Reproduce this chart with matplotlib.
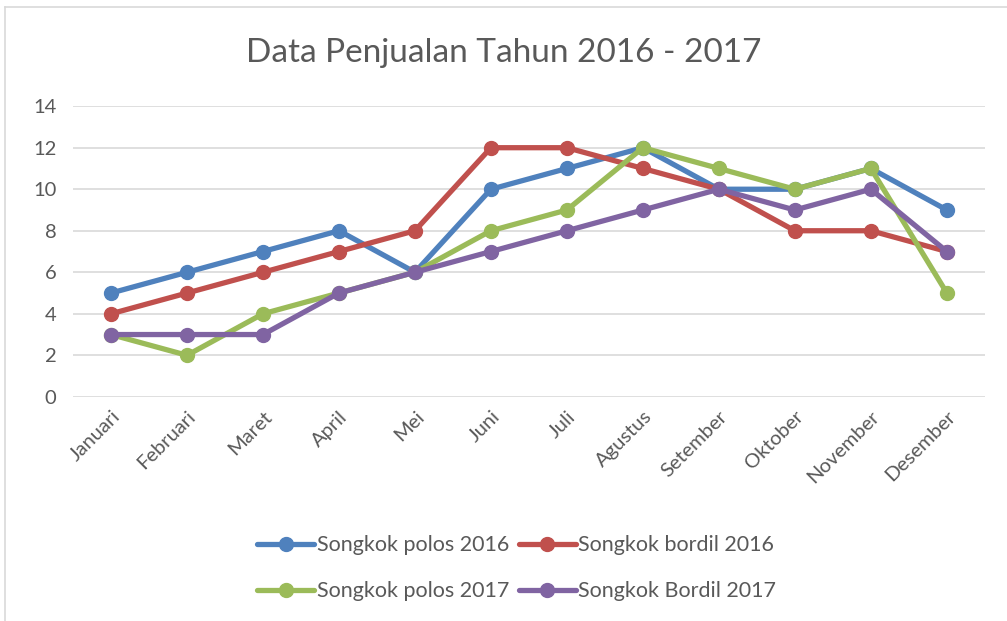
import matplotlib.pyplot as plt
from matplotlib.lines import Line2D

plt.rcParams['font.family'] = ['Lato', 'DejaVu Sans']

# data
bulan = ['Januari', 'Februari', 'Maret', 'April', 'Mei', 'Juni', 'Juli',
         'Agustus', 'Setember', 'Oktober', 'November', 'Desember']
polos_2016 = [5, 6, 7, 8, 6, 10, 11, 12, 10, 10, 11, 9]
bordil_2016 = [4, 5, 6, 7, 8, 12, 12, 11, 10, 8, 8, 7]
polos_2017 = [3, 2, 4, 5, 6, 8, 9, 12, 11, 10, 11, 5]
bordil_2017 = [3, 3, 3, 5, 6, 7, 8, 9, 10, 9, 10, 7]

series = [
    ('Songkok polos 2016', polos_2016, '#4F81BD'),
    ('Songkok bordil 2016', bordil_2016, '#C0504D'),
    ('Songkok polos 2017', polos_2017, '#9BBB59'),
    ('Songkok Bordil 2017', bordil_2017, '#8064A2'),
]

txt = '#595959'

fig = plt.figure(figsize=(10.07, 6.21), dpi=100)
ax = fig.add_axes([0.0725, 0.361, 0.9055, 0.468])

x = list(range(len(bulan)))
handles = []
for name, vals, col in series:
    ln, = ax.plot(x, vals, color=col, lw=3.8, marker='o', ms=10,
                  solid_capstyle='round', label=name, zorder=3)
    handles.append(ln)

ax.set_xlim(-0.5, len(bulan) - 0.5)
ax.set_ylim(0, 14)
ax.set_yticks(range(0, 15, 2))
ax.set_xticks(x)
ax.set_xticklabels(bulan, rotation=45, ha='right', rotation_mode='anchor')
ax.tick_params(axis='both', length=0, colors=txt, labelsize=14.5)
ax.tick_params(axis='x', pad=8)
ax.tick_params(axis='y', pad=12)
ax.grid(axis='y', color='#D9D9D9', lw=1.2)
ax.set_axisbelow(True)
for s in ax.spines.values():
    s.set_visible(False)

fig.text(0.5, 0.914, 'Data Penjualan Tahun 2016 - 2017', ha='center', va='center',
         fontsize=24, color=txt)

order = [handles[0], handles[2], handles[1], handles[3]]
leg = fig.legend(order, [h.get_label() for h in order], ncol=2,
                 loc='center', bbox_to_anchor=(0.513, 0.085), frameon=False,
                 fontsize=15.5, handlelength=2.65, handletextpad=0.1,
                 columnspacing=0.45, labelspacing=1.2, labelcolor=txt)

# chart border
fig.add_artist(Line2D([0.005, 1.0], [0.988, 0.988], color='#D9D9D9', lw=1.2))
fig.add_artist(Line2D([0.005, 0.005], [0.0, 0.988], color='#D9D9D9', lw=1.2))

fig.savefig('out.png', dpi=100)
